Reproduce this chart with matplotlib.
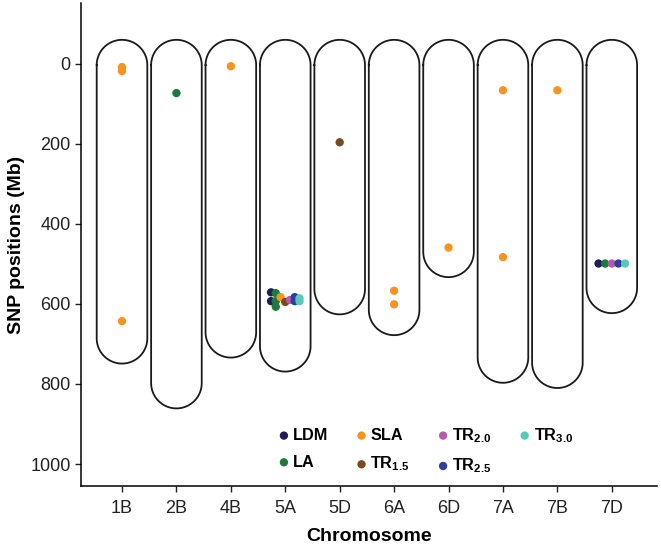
import numpy as np
import matplotlib.pyplot as plt

plt.rcParams['font.family'] = ['Liberation Sans', 'DejaVu Sans']
plt.rcParams['mathtext.fontset'] = 'custom'
plt.rcParams['mathtext.rm'] = 'Liberation Sans:bold'
plt.rcParams['mathtext.it'] = 'Liberation Sans:bold'
plt.rcParams['mathtext.bf'] = 'Liberation Sans:bold'

# chromosomes and their lengths (Mb)
chromosomes = ['1B', '2B', '4B', '5A', '5D', '6A', '6D', '7A', '7B', '7D']
chrom_len = [689, 801, 674, 709, 566, 618, 473, 737, 750, 563]

# traits
traits = ['LDM', 'LA', 'SLA', 'TR1.5', 'TR2.0', 'TR2.5', 'TR3.0']
trait_labels = ['LDM', 'LA', 'SLA', 'TR$_{1.5}$', 'TR$_{2.0}$', 'TR$_{2.5}$', 'TR$_{3.0}$']
trait_colors = ['#201c55', '#1b7b3c', '#f7931e', '#7a4a1f', '#b65ba9', '#2b3f9b', '#5ac8b8']

# significant SNPs
snp_chrom = ['1B', '1B', '1B', '2B', '4B',
             '5A', '5A', '5A', '5A', '5A', '5A', '5A', '5A', '5A', '5A', '5A', '5A',
             '5D', '6A', '6A', '6D', '7A', '7A', '7B',
             '7D', '7D', '7D', '7D', '7D']
snp_trait = ['SLA', 'SLA', 'SLA', 'LA', 'SLA',
             'LDM', 'LDM', 'LA', 'LA', 'LA', 'SLA', 'TR1.5', 'TR2.0', 'TR2.5', 'TR2.5', 'TR3.0', 'TR3.0',
             'TR1.5', 'SLA', 'SLA', 'SLA', 'SLA', 'SLA', 'SLA',
             'LDM', 'LA', 'TR2.0', 'TR2.5', 'TR3.0']
snp_pos = [8, 18, 643, 73, 6,
           571, 593, 573, 593, 607, 583, 595, 590, 583, 593, 586, 593,
           196, 567, 601, 459, 66, 483, 66,
           499, 499, 499, 499, 499]

fig = plt.figure(figsize=(6.61, 5.48), dpi=100)
ax = fig.add_axes([0.1225, 0.1131, 0.8714, 0.8814])
ax.set_xlim(0.246, 10.83)
ax.set_ylim(1055, -152)

xpos = {c: i + 1 for i, c in enumerate(chromosomes)}

# chromosome outlines (rounded bars)
fig.canvas.draw()
p0 = ax.transData.transform((0, 0))
p1 = ax.transData.transform((1, 100))
px_x = abs(p1[0] - p0[0])
px_y = abs(p1[1] - p0[1]) / 100
hw = 0.465
ry = hw * px_x / px_y
pad = 60
t = np.linspace(0, np.pi, 60)
for c, L in zip(chromosomes, chrom_len):
    x0 = xpos[c]
    top = -pad + ry
    bot = L + pad - ry
    xs = np.concatenate([x0 - hw * np.cos(t), x0 + hw * np.cos(t), [x0 - hw]])
    ys = np.concatenate([top - ry * np.sin(t), bot + ry * np.sin(t), [top]])
    ax.plot(xs, ys, color='#1a1a1a', lw=1.3, zorder=1)

# dodge points by trait within each chromosome
dodge = 0.61
xs_pts = []
for c, tr in zip(snp_chrom, snp_trait):
    present = [t_ for t_ in traits if any(cc == c and tt == t_ for cc, tt in zip(snp_chrom, snp_trait))]
    n = len(present)
    k = present.index(tr)
    xs_pts.append(xpos[c] + (k - (n - 1) / 2) * dodge / n)
xs_pts = np.array(xs_pts)
pos = np.array(snp_pos)

for tr, lab, col in zip(traits, trait_labels, trait_colors):
    m = np.array([t_ == tr for t_ in snp_trait])
    ax.scatter(xs_pts[m], pos[m], s=36, color=col, edgecolors='none', zorder=3, label=lab)

ax.set_xticks(range(1, len(chromosomes) + 1))
ax.set_xticklabels(chromosomes)
ax.set_yticks([0, 200, 400, 600, 800, 1000])
ax.tick_params(labelsize=13, length=4, width=1, colors='#222222')
ax.tick_params(axis='x', pad=6)
for s in ['top', 'right']:
    ax.spines[s].set_visible(False)
for s in ['left', 'bottom']:
    ax.spines[s].set_linewidth(1.1)
ax.set_xlabel('Chromosome', fontsize=14, fontweight='bold', labelpad=8)
ax.set_ylabel('SNP positions (Mb)', fontsize=14, fontweight='bold', labelpad=4)

ax.legend(ncol=4, loc='upper left', bbox_to_anchor=(0.334, 0.138), frameon=False,
          prop={'weight': 'bold', 'size': 11.7}, handlelength=0.5, handletextpad=0.3,
          columnspacing=1.8, labelspacing=0.72, borderaxespad=0, scatterpoints=1)

fig.savefig('out.png', dpi=100)
